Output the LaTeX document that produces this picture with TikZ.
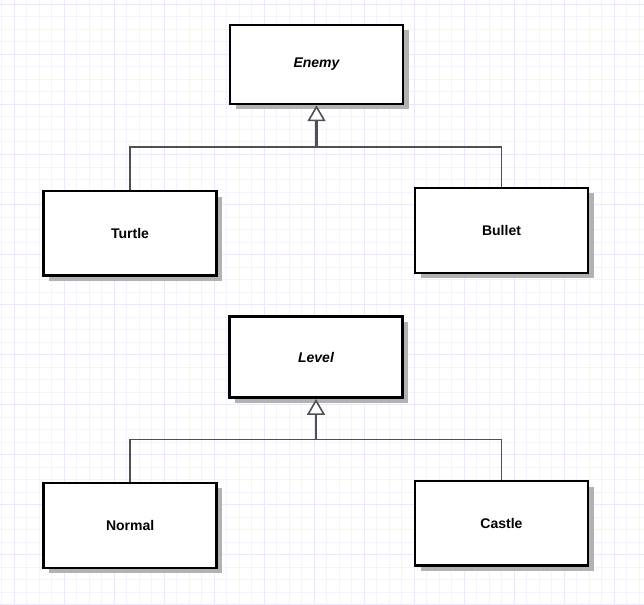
\documentclass[tikz,border=0pt]{standalone}
\usepackage{fontspec}
\setmainfont{Liberation Sans}
\usepackage{tikz}
\usetikzlibrary{arrows.meta, positioning, shadows}
\definecolor{gridminor}{RGB}{243,242,253}
\definecolor{gridmajor}{RGB}{233,232,252}
\definecolor{linkgray}{RGB}{80,80,80}
\def\cls{\fontsize{14}{17}\selectfont\bfseries}

\begin{document}
\begin{tikzpicture}[x=1pt, y=-1pt,
  classbox/.style={draw=black, line width=2.5pt, fill=white, minimum width=173pt,
    drop shadow={shadow xshift=5.5pt, shadow yshift=-5.5pt, fill=black!30, opacity=1},
    font=\cls},
  abstract/.style={classbox, font=\cls\itshape},
  inherit/.style={draw=linkgray, line width=2.4pt,
    -{Triangle[width=18pt, length=16pt, fill=white, line width=1.6pt]}},
  link/.style={draw=linkgray, line width=1.6pt}]
\useasboundingbox (0,0) rectangle (644,604);
\fill[white] (0,0) rectangle (644,604);
\foreach \gx in {0,...,51} \draw[gridminor, line width=1pt] ({1.5+12.5*\gx},0) -- ++(0,604);
\foreach \gy in {0,...,48} \draw[gridminor, line width=1pt] (0,{4.5+12.5*\gy}) -- ++(644,0);
\foreach \gx in {0,...,12} \draw[gridmajor, line width=1pt] ({14+50*\gx},0) -- ++(0,604);
\foreach \gy in {0,...,12} \draw[gridmajor, line width=1pt] (0,{4.5+50*\gy}) -- ++(644,0);

\node[abstract, minimum height=79pt] (enemy) at (316.5, 64.5) {Enemy};
\node[classbox, minimum height=84.5pt] (turtle) at (130, 233.3) {Turtle};
\node[classbox, minimum height=85pt] (bullet) at (501.5, 230.3) {Bullet};
\coordinate (enemyjoin) at (316.5, 147);
\draw[link] (bullet.north) |- (enemyjoin);
\draw[link] (turtle.north) |- (enemyjoin);
\draw[inherit] (enemyjoin) -- (enemy.south);

\node[abstract, minimum height=81pt] (level) at (316, 357.2) {Level};
\node[classbox, minimum height=85pt] (normal) at (130.2, 525.3) {Normal};
\node[classbox, minimum height=84.5pt] (castle) at (501.5, 523.3) {Castle};
\coordinate (leveljoin) at (316, 439.5);
\draw[link] (castle.north) |- (leveljoin);
\draw[link] (normal.north) |- (leveljoin);
\draw[inherit] (leveljoin) -- (level.south);
\end{tikzpicture}
\end{document}
